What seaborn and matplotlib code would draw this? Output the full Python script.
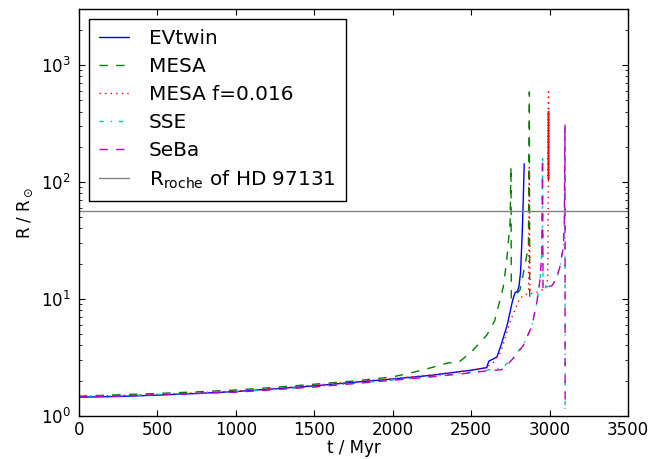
import numpy as np
import pandas as pd
import matplotlib
matplotlib.use("Agg")
import matplotlib.pyplot as plt
import seaborn as sns

# ---------------- data ----------------
evtwin_t = [0, 250, 500, 750, 1000, 1250, 1500, 1750, 2000, 2250, 2500, 2600, 2605,
            2615, 2640, 2665, 2690, 2730, 2765, 2780, 2795, 2805, 2815, 2825, 2832, 2838]
evtwin_r = [1.44, 1.46, 1.50, 1.55, 1.61, 1.70, 1.80, 1.93, 2.06, 2.22, 2.45, 2.58, 2.75,
            2.95, 3.05, 3.20, 4.0, 6.0, 9.8, 11.3, 11.6, 12.8, 17.0, 35.0, 70.0, 143.0]

mesa_t = [0, 250, 500, 750, 1000, 1250, 1500, 1750, 2000, 2100, 2200, 2300, 2350, 2420,
          2500, 2600, 2650, 2684, 2705, 2727, 2748, 2754, 2756, 2790, 2811, 2833, 2865, 2871, 2873]
mesa_r = [1.47, 1.51, 1.55, 1.60, 1.66, 1.75, 1.86, 1.98, 2.15, 2.30, 2.48, 2.70, 2.83, 2.86,
          3.50, 4.90, 6.50, 9.8, 12.7, 21.6, 45.0, 135.0, 10.0, 11.0, 11.9, 16.6, 28.0, 590.0, 10.0]

mesaf_t = [0, 250, 500, 750, 1000, 1250, 1500, 1750, 2000, 2250, 2500, 2600, 2640, 2689,
           2750, 2811, 2850, 2866, 2870, 2875, 2930, 2975, 2988, 2991, 2993,
           2993, 2993, 2993, 2993, 2993, 2993, 2993, 2993, 2993, 2993, 2993, 2993]
mesaf_r = [1.47, 1.49, 1.52, 1.57, 1.63, 1.71, 1.82, 1.95, 2.08, 2.24, 2.46, 2.60, 2.85, 3.50,
           6.50, 10.2, 10.8, 12.0, 133.0, 11.0, 11.5, 12.5, 15.0, 60.0, 590.0,
           400.0, 105.0, 400.0, 105.0, 400.0, 105.0, 400.0, 105.0, 400.0, 105.0, 400.0, 105.0]

sse_t = [0, 250, 500, 750, 1000, 1250, 1500, 1750, 2000, 2250, 2500, 2600, 2680, 2700,
         2769, 2833, 2886, 2918, 2939, 2950, 2955, 2958, 2982, 3014, 3045, 3066, 3088, 3094, 3098, 3099]
sse_r = [1.45, 1.48, 1.52, 1.56, 1.60, 1.68, 1.77, 1.89, 2.02, 2.17, 2.36, 2.45, 2.55, 2.58,
         3.15, 4.05, 5.8, 9.2, 14.6, 24.7, 158.0, 12.0, 12.7, 12.9, 15.0, 18.9, 28.0, 47.5, 310.0, 1.15]

seba_t = [0, 250, 500, 750, 1000, 1250, 1500, 1750, 2000, 2250, 2500, 2600, 2690, 2710,
          2769, 2833, 2886, 2918, 2939, 2950, 2955, 2958, 2982, 3014, 3045, 3066, 3088, 3094, 3098, 3099]
seba_r = [1.45, 1.47, 1.51, 1.55, 1.59, 1.67, 1.76, 1.88, 2.01, 2.15, 2.33, 2.42, 2.47, 2.55,
          3.10, 4.00, 5.8, 9.2, 14.6, 24.7, 158.0, 12.0, 12.7, 12.9, 15.0, 18.9, 28.0, 47.5, 310.0, 1.15]

r_roche = 56.5

series_names = ["EVtwin", "MESA", "MESA f=0.016", "SSE", "SeBa"]
roche_label = r"R$_{\rm roche}$ of HD 97131"
xlabel = "t / Myr"
ylabel = r"R / R$_\odot$"
xticks = [0, 500, 1000, 1500, 2000, 2500, 3000, 3500]

# ---------------- styling ----------------
sns.set_style("ticks")
plt.rcParams.update({
    "font.family": ["DejaVu Sans"],
    "font.size": 12,
    "text.color": "black",
    "axes.linewidth": 1.0,
    "axes.edgecolor": "black",
    "xtick.direction": "in",
    "ytick.direction": "in",
    "xtick.top": True,
    "ytick.right": True,
    "xtick.major.size": 4,
    "ytick.major.size": 4,
    "xtick.minor.size": 2,
    "ytick.minor.size": 2,
    "xtick.major.width": 0.8,
    "ytick.major.width": 0.8,
    "xtick.major.pad": 4,
    "ytick.major.pad": 6,
    "xtick.color": "black",
    "ytick.color": "black",
    "axes.labelcolor": "black",
    "mathtext.default": "regular",
})

fig = plt.figure(figsize=(6.66, 4.59), dpi=100)
ax = fig.add_axes([0.1186, 0.0943, 0.943 - 0.1186, 0.9797 - 0.0943])

styles = [
    ("blue", "-"),
    ("green", (0, (6, 6))),
    ("red", (0, (1, 3))),
    ("#00bfbf", (0, (3, 5, 1, 5))),
    ("#bf00bf", (0, (6, 6))),
]
data = [(evtwin_t, evtwin_r), (mesa_t, mesa_r), (mesaf_t, mesaf_r), (sse_t, sse_r), (seba_t, seba_r)]

for name, (t, r), (c, ls) in zip(series_names, data, styles):
    df = pd.DataFrame({"t": t, "R": r})
    sns.lineplot(data=df, x="t", y="R", ax=ax, sort=False, estimator=None,
                 color=c, linestyle=ls, linewidth=1.0, label=name)

ax.axhline(r_roche, color="0.5", linewidth=1.0, label=roche_label)

ax.set_yscale("log")
ax.set_xlim(0, 3500)
ax.set_ylim(1, 3000)
ax.set_xticks(xticks)
ax.set_xticklabels([str(v) for v in xticks])
ax.set_xlabel(xlabel, fontsize=12, labelpad=0)
ax.set_ylabel(ylabel, fontsize=12, labelpad=4)
for s in ax.spines.values():
    s.set_visible(True)
ax.tick_params(which="both", top=True, right=True, direction="in")

leg = ax.legend(loc="upper left", fontsize=14.4, frameon=True, fancybox=False,
                handlelength=1.5, handletextpad=1.0, labelspacing=0.44,
                borderpad=0.5, borderaxespad=0.5)
leg.get_frame().set_edgecolor("black")
leg.get_frame().set_linewidth(1.0)
leg.get_frame().set_alpha(1.0)
for txt in leg.get_texts():
    txt.set_color("black")

fig.savefig("out.png", dpi=100, facecolor="white")
